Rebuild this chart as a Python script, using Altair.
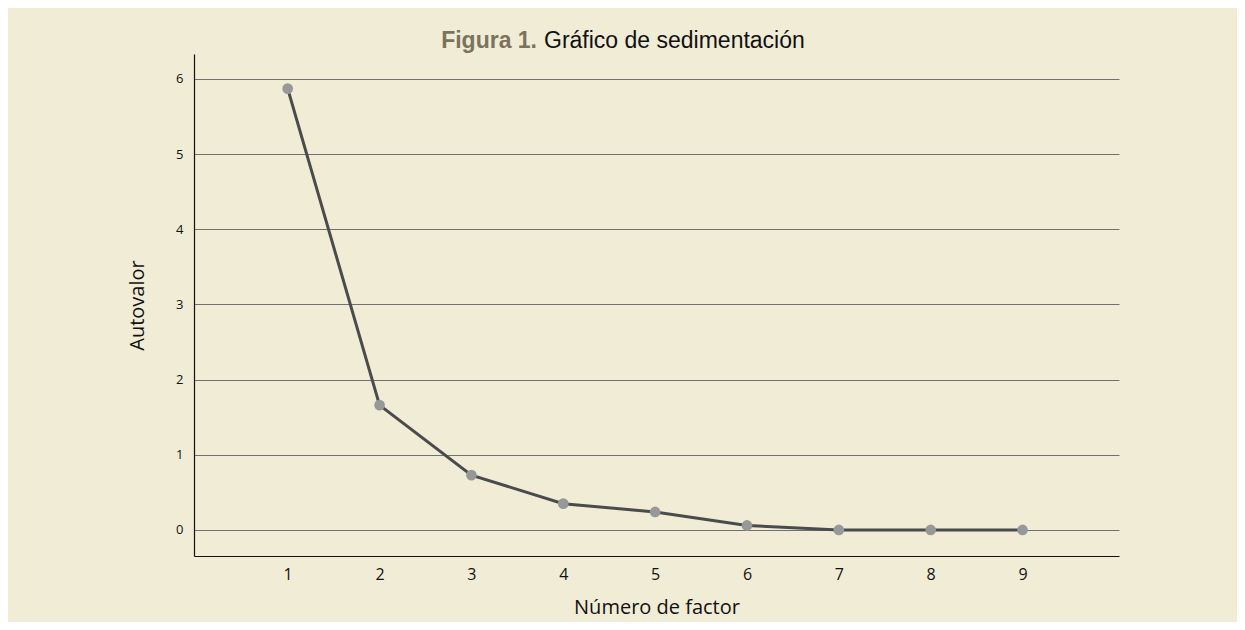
import altair as alt
import pandas as pd

factors = [1, 2, 3, 4, 5, 6, 7, 8, 9]
eigenvalues = [5.87, 1.66, 0.73, 0.35, 0.24, 0.06, 0.0, 0.0, 0.0]
y_ticks = [0, 1, 2, 3, 4, 5, 6]
x_ticks = [1, 2, 3, 4, 5, 6, 7, 8, 9]
title_bold = "Figura 1."
title_rest = "Gráfico de sedimentación"
x_title = "Número de factor"
y_title = "Autovalor"

BG = "#f1ecd5"
df = pd.DataFrame({"factor": factors, "autovalor": eigenvalues})

W, H = 925, 502

x = alt.X("factor:Q",
          scale=alt.Scale(domain=[-0.02, 10.05], nice=False, zero=False),
          axis=alt.Axis(values=x_ticks, title=x_title, grid=False, ticks=False,
                        labelFontSize=16, labelFont="Open Sans", labelColor="#111111",
                        labelPadding=10, domainColor="#111111", domainWidth=1.2,
                        titleFont="Open Sans", titleFontSize=20, titleFontWeight="normal",
                        titleColor="#111111", titleY=57, titleBaseline="alphabetic"))
y = alt.Y("autovalor:Q",
          scale=alt.Scale(domain=[-0.346, 6.33], nice=False, zero=False),
          axis=alt.Axis(values=y_ticks, title=y_title, grid=True, gridColor="#6e7072",
                        gridWidth=1.2, ticks=False, labelFontSize=13, labelFont="Open Sans",
                        labelColor="#111111", labelPadding=11, domainColor="#111111",
                        domainWidth=1.2, titleFont="Open Sans", titleFontSize=20,
                        titleFontWeight="normal", titleColor="#111111",
                        titleX=-57, titleBaseline="middle"))

line = alt.Chart(df).mark_line(color="#4a4b4c", strokeWidth=3).encode(x=x, y=y)
pts = alt.Chart(df).mark_circle(color="#97989a", opacity=1, size=115).encode(x=x, y=y)

tdf = pd.DataFrame({"a": [1]})
t1 = alt.Chart(tdf).mark_text(text=title_bold, font="Liberation Sans", fontSize=23,
                              fontWeight="bold", color="#7b735e", align="right",
                              baseline="alphabetic").encode(x=alt.value(343), y=alt.value(-6))
t2 = alt.Chart(tdf).mark_text(text=title_rest, font="Liberation Sans", fontSize=23,
                              color="#111111", align="left",
                              baseline="alphabetic").encode(x=alt.value(350), y=alt.value(-6))

chart = alt.layer(line, pts, t1, t2).properties(
    width=W, height=H,
    background=BG,
    padding={"left": 186, "top": 46, "right": 118, "bottom": 66},
    autosize=alt.AutoSizeParams(type="none"),
).configure_view(stroke=None)

chart.save("out.html", embed_options={"renderer": "svg", "actions": False})
